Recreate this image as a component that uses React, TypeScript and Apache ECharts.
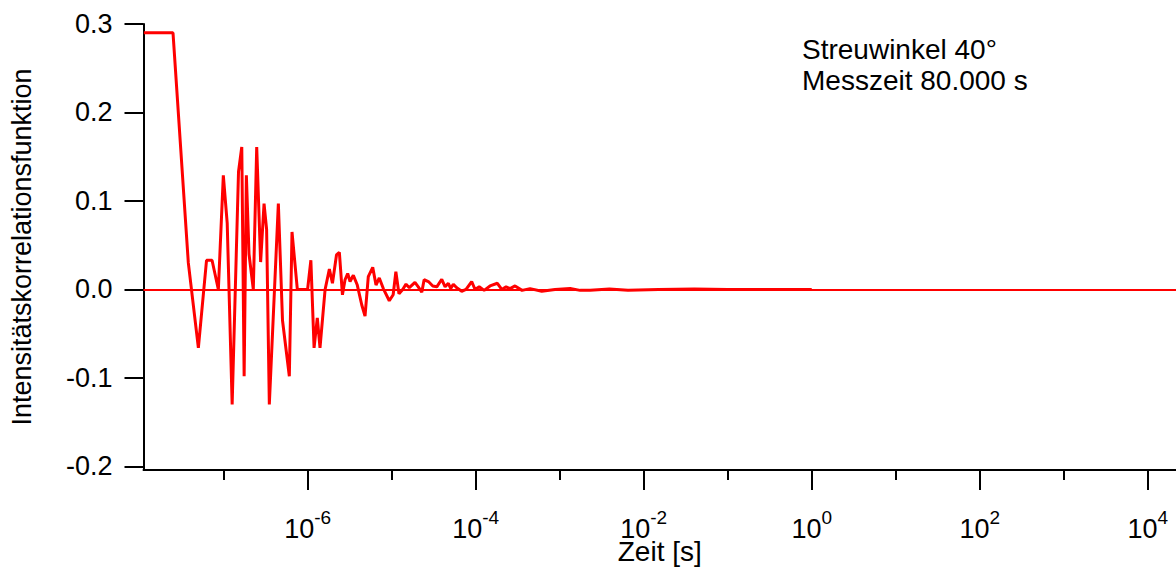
import React, { useEffect, useRef } from "react";
import * as echarts from "echarts";

// Lag times of the correlator channels [s]
const TIME_S = [
  1.12e-8, 2.49e-8, 3.79e-8, 4.99e-8, 6.24e-8, 7.26e-8, 8.63e-8, 9.89e-8, 1.1e-7, 1.26e-7,
  1.5e-7, 1.64e-7, 1.75e-7, 1.86e-7, 2.0e-7, 2.25e-7, 2.47e-7, 2.75e-7, 3.02e-7, 3.24e-7,
  3.49e-7, 4.47e-7, 5.01e-7, 6.04e-7, 6.5e-7, 7.52e-7, 9.96e-7, 1.09e-6, 1.19e-6, 1.3e-6,
  1.4e-6, 1.61e-6, 1.81e-6, 1.97e-6, 2.2e-6, 2.38e-6, 2.59e-6, 2.78e-6, 2.99e-6, 3.19e-6,
  3.49e-6, 3.89e-6, 4.4e-6, 4.81e-6, 5.26e-6, 5.94e-6, 6.5e-6, 7.11e-6, 7.94e-6, 9.35e-6,
  1.04e-5, 1.12e-5, 1.22e-5, 1.35e-5, 1.48e-5, 1.62e-5, 1.89e-5, 2.07e-5, 2.28e-5, 2.43e-5,
  2.73e-5, 3.08e-5, 3.44e-5, 3.94e-5, 4.32e-5, 4.72e-5, 5.04e-5, 5.41e-5, 5.94e-5, 6.81e-5,
  7.67e-5, 8.95e-5, 9.82e-5, 1.1e-4, 1.26e-4, 1.48e-4, 1.81e-4, 2.04e-4, 2.3e-4, 2.56e-4,
  2.94e-4, 3.56e-4, 4.43e-4, 6.11e-4, 8.79e-4, 1.33e-3, 1.75e-3, 2.3e-3, 3.9e-3, 6.5e-3,
  1.5e-2, 4.0e-2, 0.1, 0.3, 1,
];

// Intensity correlation function g2(t) - 1
const G2_VALUES = [
  0.29, 0.29, 0.03, -0.066, 0.033, 0.033, 0.0, 0.129, 0.075, -0.13,
  0.133, 0.161, -0.098, 0.129, 0.04, 0.0, 0.161, 0.031, 0.097, 0.068,
  -0.13, 0.097, -0.035, -0.098, 0.065, 0.0, 0.0, 0.033, -0.066, -0.032,
  -0.066, 0.0, 0.023, 0.007, 0.039, 0.042, -0.006, 0.011, 0.018, 0.009,
  0.016, 0.005, -0.0175, -0.03, 0.0145, 0.025, 0.005, 0.013, 0.001, -0.0127,
  -0.006, 0.02, -0.005, 0.0, 0.006, 0.002, 0.008, 0.003, -0.003, 0.011,
  0.009, 0.004, 0.003, 0.0115, 0.003, 0.007, 0.001, 0.006, 0.002, -0.002,
  0.0, 0.009, 0.0, 0.003, -0.001, 0.004, 0.007, 0.0, 0.003, 0.001,
  0.004, -0.001, 0.001, -0.002, 0.0, 0.001, -0.001, -0.001, 0.0005, -0.001,
  0.0, 0.0005, 0.0, 0.0, 0.0,
];

const Y_TICKS = [-0.2, -0.1, 0.0, 0.1, 0.2, 0.3];
const X_MAJOR_TICKS = [1e-6, 1e-4, 1e-2, 1e0, 1e2, 1e4];
const X_MINOR_TICKS = [1e-7, 1e-5, 1e-3, 1e-1, 1e1, 1e3];

const X_MIN = 1.109e-8;
const X_MAX = 2.17e4;

const FONT = '"Liberation Sans", Arial, Helvetica, sans-serif';
const RED = "#ff0000";
const BLACK = "#000000";

export default function App() {
  const ref = useRef<HTMLDivElement>(null);

  useEffect(() => {
    if (!ref.current) return;
    const chart = echarts.init(ref.current, undefined, { renderer: "svg" });

    const data = TIME_S.map((t, i) => [t, G2_VALUES[i]]);

    const baseX = {
      type: "log",
      logBase: 10,
      min: X_MIN,
      max: X_MAX,
      position: "bottom",
      splitLine: { show: false },
    };

    chart.setOption({
      animation: false,
      backgroundColor: "#ffffff",
      textStyle: { fontFamily: FONT, color: BLACK },
      grid: {
        left: 143.5,
        right: 0,
        top: 24,
        bottom: 102,
        outerBoundsMode: "none",
      },
      xAxis: [
        {
          ...baseX,
          name: "Zeit [s]",
          nameLocation: "middle",
          nameGap: 67,
          nameMoveOverlap: false,
          nameTextStyle: { fontSize: 28, color: BLACK, fontFamily: FONT },
          axisLine: { show: true, onZero: false, lineStyle: { color: BLACK, width: 2 } },
          axisTick: {
            show: true,
            length: 20,
            customValues: X_MAJOR_TICKS,
            lineStyle: { color: BLACK, width: 2 },
          },
          minorTick: { show: false },
          axisLabel: {
            show: true,
            margin: 38,
            customValues: X_MAJOR_TICKS,
            formatter: (v: number) => {
              const e = Math.round(Math.log10(v));
              return `{b|10}{e|${e}}`;
            },
            rich: {
              b: { fontSize: 27, fontFamily: FONT, color: BLACK, lineHeight: 34, verticalAlign: "bottom" },
              e: { fontSize: 19, fontFamily: FONT, color: BLACK, lineHeight: 20, verticalAlign: "top" },
            },
          },
        },
        {
          ...baseX,
          axisLine: { show: false, onZero: false },
          axisTick: {
            show: true,
            length: 10,
            customValues: X_MINOR_TICKS,
            lineStyle: { color: BLACK, width: 2 },
          },
          axisLabel: { show: false },
        },
      ],
      yAxis: {
        type: "value",
        min: -0.204,
        max: 0.3,
        name: "Intensitätskorrelationsfunktion",
        nameLocation: "middle",
        nameGap: 108,
        nameMoveOverlap: false,
        nameRotate: 90,
        nameTextStyle: { fontSize: 27, color: BLACK, fontFamily: FONT },
        splitLine: { show: false },
        axisLine: { show: true, onZero: false, lineStyle: { color: BLACK, width: 2 } },
        axisTick: {
          show: true,
          length: 19,
          customValues: Y_TICKS,
          lineStyle: { color: BLACK, width: 2 },
        },
        axisLabel: {
          margin: 31,
          customValues: Y_TICKS,
          fontSize: 27,
          fontFamily: FONT,
          color: BLACK,
          formatter: (v: number) => v.toFixed(1),
        },
      },
      graphic: [
        {
          type: "text",
          left: 802,
          top: 34,
          style: {
            text: "Streuwinkel 40°\nMesszeit 80.000 s",
            font: `28px ${FONT}`,
            fill: BLACK,
            lineHeight: 31,
          },
        },
      ],
      series: [
        {
          type: "line",
          xAxisIndex: 0,
          yAxisIndex: 0,
          data,
          showSymbol: false,
          symbol: "none",
          smooth: false,
          lineStyle: { color: RED, width: 3 },
          markLine: {
            silent: true,
            symbol: "none",
            label: { show: false },
            lineStyle: { color: RED, width: 2, type: "solid" },
            data: [{ yAxis: 0 }],
          },
        },
      ],
    });

    return () => chart.dispose();
  }, []);

  return (
    <div
      ref={ref}
      style={{ position: "absolute", left: 0, top: 0, width: 1176, height: 572, background: "#fff" }}
    />
  );
}
